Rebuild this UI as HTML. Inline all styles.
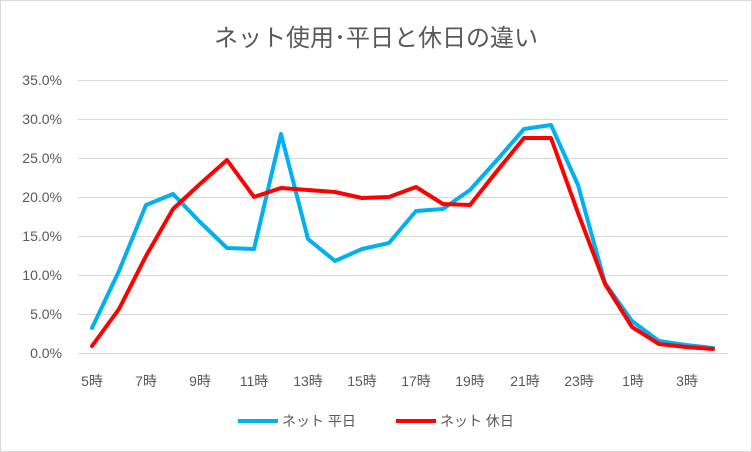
<!DOCTYPE html>
<html><head><meta charset="utf-8"><style>
body{margin:0;background:#fff}
svg{display:block}
text{font-family:"Liberation Sans","Noto Sans CJK JP",sans-serif;fill:#595959}
</style></head><body>
<svg width="752" height="452" viewBox="0 0 752 452">
<rect x="0.5" y="0.5" width="751" height="451" fill="#fff" stroke="#d9d9d9"/>
<text x="376" y="46" font-size="24" text-anchor="middle">ネット使用･平日と休日の違い</text>
<g stroke="#d9d9d9" stroke-width="1">
<line x1="78" x2="728" y1="80.5" y2="80.5"/><line x1="78" x2="728" y1="119.5" y2="119.5"/>
<line x1="78" x2="728" y1="158.5" y2="158.5"/><line x1="78" x2="728" y1="197.5" y2="197.5"/>
<line x1="78" x2="728" y1="236.5" y2="236.5"/><line x1="78" x2="728" y1="275.5" y2="275.5"/>
<line x1="78" x2="728" y1="314.5" y2="314.5"/><line x1="78" x2="728" y1="353.5" y2="353.5"/>
</g>
<g font-size="14" text-anchor="end">
<text x="62" y="85">35.0%</text><text x="62" y="124">30.0%</text><text x="62" y="163">25.0%</text>
<text x="62" y="202">20.0%</text><text x="62" y="241">15.0%</text><text x="62" y="280">10.0%</text>
<text x="62" y="319">5.0%</text><text x="62" y="358">0.0%</text>
</g>
<g font-size="14" text-anchor="middle">
<text x="92" y="386">5時</text><text x="146" y="386">7時</text><text x="200" y="386">9時</text>
<text x="254" y="386">11時</text><text x="308" y="386">13時</text><text x="362" y="386">15時</text>
<text x="416" y="386">17時</text><text x="470" y="386">19時</text><text x="525" y="386">21時</text>
<text x="579" y="386">23時</text><text x="633" y="386">1時</text><text x="687" y="386">3時</text>
</g>
<polyline fill="none" stroke="#00b0f0" stroke-width="4" stroke-linejoin="round" stroke-linecap="round" points="
92,328 119,271 146,205 173,194 200,222 227,248 254,249 281,134 308,239 335,261 362,249 389,243 416,211 443,209 470,190 497,160 524,129 551,125 578,185 605,283 632,321 659,341 686,345 713,348"/>
<polyline fill="none" stroke="#ff0000" stroke-width="4" stroke-linejoin="round" stroke-linecap="round" points="
92,346 119,309 146,256 173,209 200,184 227,160 254,197 281,188 308,190 335,192 362,198 389,197 416,187 443,204 470,205 497,171 524,138 551,138 578,213 605,284 632,327 659,344 686,347 713,349"/>
<line x1="238" x2="278" y1="421" y2="421" stroke="#00b0f0" stroke-width="4"/>
<text x="282" y="426" font-size="14">ネット 平日</text>
<line x1="396" x2="436" y1="421" y2="421" stroke="#ff0000" stroke-width="4"/>
<text x="440" y="426" font-size="14">ネット 休日</text>
</svg>
</body></html>
